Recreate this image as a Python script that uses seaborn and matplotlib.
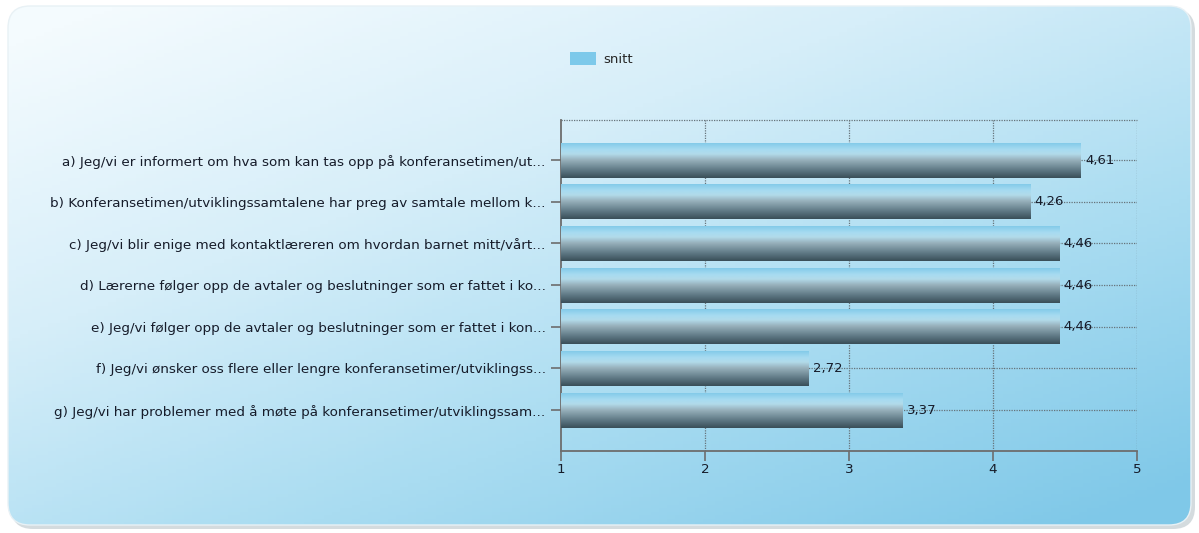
import numpy as np
import pandas as pd
import seaborn as sns
import matplotlib.pyplot as plt
from matplotlib.colors import LinearSegmentedColormap
from matplotlib.patches import FancyBboxPatch, Patch

# data
sporsmal = [
    'a) Jeg/vi er informert om hva som kan tas opp på konferansetimen/ut...',
    'b) Konferansetimen/utviklingssamtalene har preg av samtale mellom k...',
    'c) Jeg/vi blir enige med kontaktlæreren om hvordan barnet mitt/vårt...',
    'd) Lærerne følger opp de avtaler og beslutninger som er fattet i ko...',
    'e) Jeg/vi følger opp de avtaler og beslutninger som er fattet i kon...',
    'f) Jeg/vi ønsker oss flere eller lengre konferansetimer/utviklingss...',
    'g) Jeg/vi har problemer med å møte på konferansetimer/utviklingssam...',
]
snitt = [4.61, 4.26, 4.46, 4.46, 4.46, 2.72, 3.37]
x_ticks = [1, 2, 3, 4, 5]

df = pd.DataFrame({'sporsmal': sporsmal, 'snitt': snitt})

sns.set_style('white')
plt.rcParams['font.family'] = ['DejaVu Sans']

W, H = 1199, 533
fig = plt.figure(figsize=(W / 100, H / 100), dpi=100)
fig.patch.set_facecolor('white')

# bakgrunn med avrundet panel og gradient
ax_bg = fig.add_axes([0, 0, 1, 1], zorder=-10)
ax_bg.set_xlim(0, W)
ax_bg.set_ylim(H, 0)
ax_bg.axis('off')
shadow = FancyBboxPatch((11, 9), 1184, 520, boxstyle='round,pad=0,rounding_size=22',
                        facecolor='#c2ccd1', edgecolor='none', alpha=0.7, zorder=-1)
ax_bg.add_patch(shadow)
panel = FancyBboxPatch((8, 6), 1183, 519, boxstyle='round,pad=0,rounding_size=22',
                       facecolor='none', edgecolor='#e8f1f5', linewidth=1, zorder=2)
ax_bg.add_patch(panel)
gx, gy = np.meshgrid(np.linspace(0, 1, 300), np.linspace(0, 1, 150))
t = np.clip(0.6 * gy + 0.5 * gx - 0.05, 0, 1)
bg_cmap = LinearSegmentedColormap.from_list('bg', ['#f4fbfe', '#d6eef9', '#a9dcf1', '#7fc8e8'])
im = ax_bg.imshow(t, extent=(0, W, H, 0), cmap=bg_cmap, aspect='auto', zorder=0)
im.set_clip_path(panel)

# hovedplott
ax = fig.add_axes([561 / W, 1 - 451 / H, (1137 - 561) / W, (451 - 120) / H])
ax.set_facecolor('none')
sns.barplot(data=df, x='snitt', y='sporsmal', orient='h', color='#7dc9ea',
            width=0.84, ax=ax, zorder=3, edgecolor='none', linewidth=0)

bar_cmap = LinearSegmentedColormap.from_list(
    'bar', [(0.0, '#7fc8e8'), (0.2, '#a6dbf1'), (0.33, '#b2dbea'),
            (0.5, '#97b0bb'), (0.78, '#5f7985'), (1.0, '#3a4f59')])
grad = np.linspace(0, 1, 100).reshape(-1, 1)
for p in ax.patches:
    verdi = p.get_width()
    # søylene starter ved skalaens minimum (1)
    p.set_x(1)
    p.set_width(verdi - 1)
    x0, y0 = p.get_x(), p.get_y()
    w, h = p.get_width(), p.get_height()
    bi = ax.imshow(grad, extent=(x0, x0 + w, y0 + h, y0), cmap=bar_cmap,
                   aspect='auto', zorder=4)
    bi.set_clip_path(p)
    ax.text(verdi + 0.03, y0 + h / 2, format(verdi, '.2f').replace('.', ','),
            va='center', ha='left', fontsize=9.5, color='#161c2a', zorder=6)

ax.set_xlim(1, 5)
ax.set_ylim(6.98, -0.96)
ax.set_xticks(x_ticks)
ax.set_xticklabels([str(v) for v in x_ticks])
ax.set_xlabel('')
ax.set_ylabel('')

for v in x_ticks[1:]:
    ax.axvline(v, color='#66737a', linestyle=(0, (1, 1)), linewidth=0.9, zorder=1)
for i in range(len(sporsmal)):
    ax.axhline(i, color='#66737a', linestyle=(0, (1, 1)), linewidth=0.9, zorder=1)
ax.axhline(-0.96, color='#66737a', linestyle=(0, (1, 1)), linewidth=0.9,
           zorder=1, clip_on=False)

for s in ['left', 'bottom']:
    ax.spines[s].set_color('#6d6d6d')
    ax.spines[s].set_linewidth(1.3)
ax.spines['right'].set_visible(False)
ax.spines['top'].set_visible(False)

ax.tick_params(axis='both', direction='out', length=7, width=1.2, color='#6d6d6d',
               labelsize=9.7, labelcolor='#161c2a', pad=4)
ax.tick_params(axis='y', left=True)
ax.tick_params(axis='x', bottom=True, pad=1.5)

fig.legend(handles=[Patch(facecolor='#7dc9ea', edgecolor='none')], labels=['snitt'],
           loc='center left', bbox_to_anchor=(558 / W, 1 - 59 / H), frameon=False,
           handlelength=2.0, handleheight=1.1, handletextpad=0.5, fontsize=9.5)

fig.savefig('out.png', dpi=100)
